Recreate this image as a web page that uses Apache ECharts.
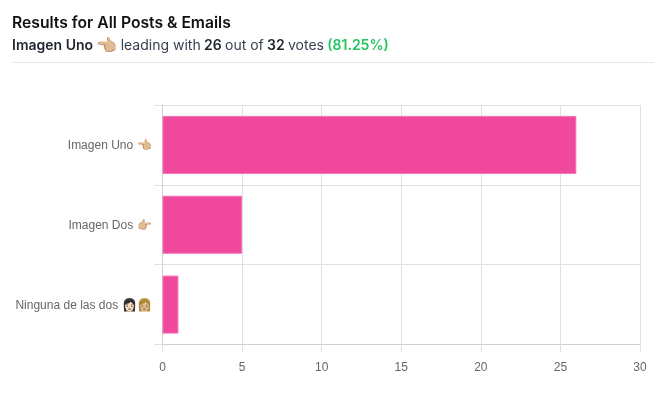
<!DOCTYPE html>
<html><head><meta charset="utf-8">
<style>html,body{margin:0;padding:0;background:#fff}#c{width:666px;height:394px}</style>
<script src="https://cdn.jsdelivr.net/npm/echarts@6/dist/echarts.min.js"></script>
</head><body><div id="c"></div>
<script>
const categories = ['Imagen Uno 👈🏼', 'Imagen Dos 👉🏼', 'Ninguna de las dos 👩🏻👩🏼'];
const votes = [26, 5, 1];
const titleText = 'Results for All Posts & Emails';
const leaderName = 'Imagen Uno';
const leaderEmoji = '👈🏼';
const leaderVotes = '26';
const totalVotes = '32';
const percent = '(81.25%)';

const chart = echarts.init(document.getElementById('c'), null, {renderer: 'canvas'});
const UI = 'Inter, "Liberation Sans", sans-serif';
const AX = '"Liberation Sans", Arial, sans-serif';
const dark = '#1f2430';
chart.setOption({
  animation: false,
  backgroundColor: '#fff',
  title: [{
    left: 12, top: 15, padding: 0, text: titleText,
    textStyle: {fontFamily: UI, fontSize: 15.7, fontWeight: 600, color: '#111'}
  }, {
    left: 12, top: 37, padding: 0,
    text: '{b|' + leaderName + '} {e|' + leaderEmoji + '} {n|leading with} {b|' + leaderVotes + '} {n|out of} {b|' + totalVotes + '} {n|votes} {g|' + percent + '}',
    textStyle: {
      fontFamily: UI, fontSize: 14,
      rich: {
        b: {fontFamily: UI, fontSize: 14, fontWeight: 600, color: dark},
        e: {fontSize: 17, color: dark},
        n: {fontFamily: UI, fontSize: 14, fontWeight: 400, color: '#374151'},
        g: {fontFamily: UI, fontSize: 14, fontWeight: 600, color: '#22c55e'}
      }
    }
  }],
  graphic: [{type: 'line', shape: {x1: 12, y1: 62.5, x2: 654, y2: 62.5}, style: {stroke: '#e5e7eb', lineWidth: 1}}],
  grid: {left: 162.5, right: 26, top: 105, bottom: 49.5, containLabel: false},
  xAxis: {
    type: 'value', min: 0, max: 30, interval: 5,
    axisLine: {show: true, onZero: false, lineStyle: {color: '#cfcfcf', width: 1}},
    axisTick: {show: true, length: 8, lineStyle: {color: '#e0e0e0'}},
    axisLabel: {fontFamily: AX, fontSize: 12, color: '#666', margin: 17},
    splitLine: {show: true, lineStyle: {color: '#e0e0e0', width: 1}}
  },
  yAxis: {
    type: 'category', data: categories, inverse: true,
    axisLine: {show: true, lineStyle: {color: '#cfcfcf', width: 1}},
    axisTick: {show: true, length: 8, lineStyle: {color: '#e0e0e0'}},
    axisLabel: {fontFamily: AX, fontSize: 12, color: '#666', margin: 11, verticalAlign: 'top', lineHeight: 2},
    splitLine: {show: true, lineStyle: {color: '#e0e0e0', width: 1}}
  },
  series: [{
    type: 'bar', data: votes, barWidth: 58,
    itemStyle: {color: '#f0489c', borderColor: '#f472b6', borderWidth: 1}
  }]
});
</script></body></html>
